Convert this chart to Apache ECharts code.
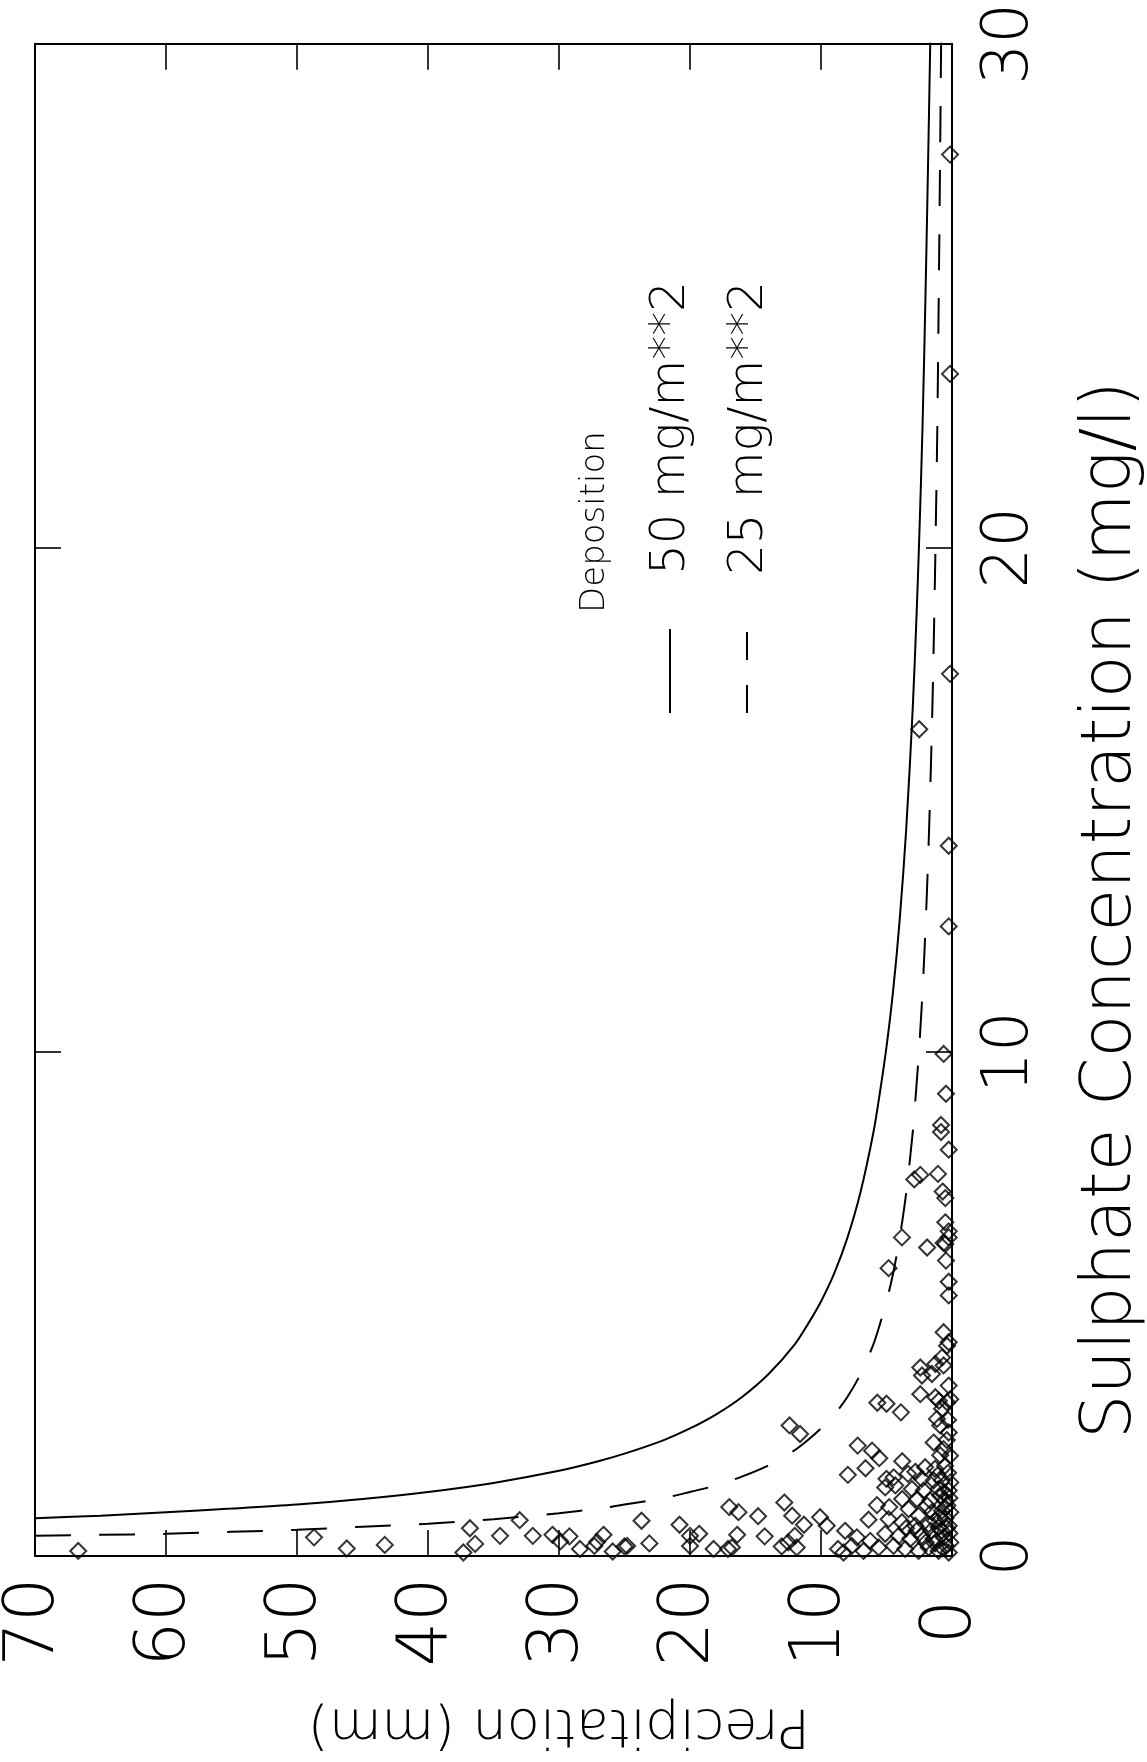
<!DOCTYPE html>
<html>
<head>
<meta charset="utf-8">
<script src="https://cdn.jsdelivr.net/npm/echarts@6/dist/echarts.min.js"></script>
<style>
html,body{margin:0;padding:0;background:#fff;}
#chart{width:1147px;height:1762px;}
</style>
</head>
<body>
<div id="chart"></div>
<script>
// Tick labels
const precipTicks = [0, 10, 20, 30, 40, 50, 60, 70];
const sulphateTicks = [0, 10, 20, 30];

// Deposition curves: [precipitation mm, sulphate mg/l]
const deposition50 = [
  [70, 0.75], [65, 0.80], [60, 0.87], [55, 0.94], [50, 1.02], [45, 1.13], [40, 1.27], [35, 1.45],
  [30, 1.69], [27, 1.88], [25, 2.03], [22, 2.30], [20, 2.53], [18, 2.81], [16, 3.16], [14, 3.61],
  [12, 4.20], [11, 4.60], [10, 5.05], [9, 5.60], [8, 6.30], [7, 7.20], [6, 8.40], [5.5, 9.20],
  [5, 10.1], [4.5, 11.2], [4, 12.6], [3.5, 14.4], [3, 16.8], [2.7, 18.7], [2.5, 20.2],
  [2.25, 22.4], [2, 25.3], [1.8, 28.0], [1.62, 30.6]
];
const deposition25 = [
  [70, 0.40], [65, 0.42], [60, 0.44], [55, 0.48], [50, 0.52], [45, 0.58], [40, 0.64], [35, 0.73],
  [30, 0.85], [27, 0.94], [25, 1.02], [22, 1.15], [20, 1.27], [18, 1.40], [16, 1.58], [14, 1.80],
  [12, 2.10], [11, 2.30], [10, 2.53], [9, 2.80], [8, 3.15], [7, 3.60], [6, 4.20], [5.5, 4.60],
  [5, 5.05], [4.5, 5.60], [4, 6.30], [3.5, 7.20], [3, 8.40], [2.75, 9.20], [2.5, 10.1],
  [2.25, 11.2], [2, 12.6], [1.75, 14.4], [1.5, 16.8], [1.35, 18.7], [1.25, 20.2],
  [1.12, 22.4], [1, 25.3], [0.9, 28.0], [0.81, 30.6]
];

// Observations: [precipitation mm, sulphate mg/l]
const samples = [
  [66.7,0.10],[48.7,0.37],
  [46.2,0.15],[43.3,0.22],[36.8,0.55],[36.4,0.24],[37.3,0.07],[34.5,0.40],[33.0,0.71],[32.0,0.40],
  [30.5,0.42],[29.9,0.29],[29.2,0.39],[28.4,0.14],[27.3,0.20],[27.1,0.28],[26.6,0.42],[25.9,0.09],[25.0,0.19],
  [24.8,0.20],[23.7,0.70],[23.1,0.25],[20.8,0.62],[20.0,0.40],[19.3,0.44],[20.0,0.20],[18.2,0.14],
  [17.0,0.97],[16.3,0.87],[16.4,0.42],[17.1,0.14],[16.8,0.17],[14.8,0.79],[14.3,0.39],[12.8,1.06],
  [12.2,0.80],[11.3,0.62],[12.4,2.59],[11.6,2.42],[12.0,0.40],[12.5,0.27],[13.0,0.19],[11.85,0.17],
  [5.7,3.04],[5.0,3.02],[3.9,2.85],[1.0,3.08],[0.76,2.92],[0.38,3.05],[1.15,2.72],[0.9,2.59],[0.25,2.45],
  [7.2,2.19],[6.1,2.09],[5.55,1.94],[6.6,1.74],[7.95,1.61],[3.8,1.88],[1.4,2.25],[0.64,2.12],[0.15,1.99],
  [2.8,1.67],[2.05,1.76],[1.3,1.73],[0.53,1.79],[5.0,1.53],[4.45,1.56],[5.1,1.36],[4.33,1.40],[3.36,1.63],
  [2.3,1.53],[1.4,1.50],[0.76,1.50],[0.13,1.46],[3.06,1.33],[2.16,1.30],[1.02,1.33],[0.25,1.30],
  [3.8,1.13],[2.67,1.13],[1.66,1.10],[0.51,1.10],[5.73,1.01],[4.79,0.97],[3.31,0.93],[2.55,0.80],
  [1.53,0.87],[0.76,0.90],[0.13,0.87],[6.37,0.72],[4.84,0.73],[3.82,0.67],[2.8,0.60],[1.78,0.63],
  [1.02,0.57],[0.25,0.60],[10.07,0.77],[9.56,0.60],[8.16,0.50],[5.1,0.44],[4.07,0.40],[3.19,0.34],
  [2.3,0.40],[1.4,0.34],[0.64,0.37],[0.13,0.27],[7.26,0.37],[6.24,0.30],[8.7,0.14],[7.65,0.20],
  [6.75,0.10],[5.6,0.17],[4.46,0.20],[3.57,0.14],[2.55,0.10],[1.78,0.17],[1.02,0.10],[0.25,0.07],[8.28,0.07],
  [0.4,2.3],[0.9,2.0],[0.3,1.65],[0.6,1.25],[1.1,1.6],[0.35,1.0],[0.9,1.2],[0.5,0.75],[1.3,0.7],
  [0.2,0.45],[0.8,0.5],[1.6,0.5],[0.45,0.2],[1.3,0.25],[2.0,0.27],[0.7,0.15],[2.7,0.5],[3.5,0.55],
  [1.9,1.0],[0.3,2.7],[0.5,0.95],[0.2,1.15],[0.95,0.78],[0.4,0.55],
  [1.9,6.12],[0.51,6.19],[0.46,5.86],[4.84,5.71],[0.25,5.44],[0.25,5.17],[0.64,4.44],[0.25,4.24],
  [0.38,4.17],[0.76,3.94],[1.27,3.81],[2.42,3.74],[2.29,3.58],[1.53,3.61],[0.64,3.78],[0.25,3.38],
  [2.42,3.21],[1.27,3.15],[0.13,3.11],
  [0.64,9.96],[0.46,9.17],[0.84,8.55],[0.84,8.41],[0.25,8.06],[2.42,7.56],[2.88,7.47],[1.07,7.58],
  [0.71,7.23],[0.51,7.10],[0.51,6.62],[0.25,6.44],[0.25,6.32],[3.82,6.32],[0.64,6.21],
  [0.25,14.09],[0.25,12.49],
  [0.15,27.8],[0.15,23.45],[0.15,17.5],[2.5,16.4]
];

const FONT = '"DejaVu Sans", "Liberation Sans", sans-serif';
const FW = 200;
const chart = echarts.init(document.getElementById('chart'), null, {renderer: 'canvas'});
const grid = {left: 35, right: 195, top: 38, bottom: 206};
const axisBase = {
  type: 'value', interval: 10,
  axisLine: {show: true, onZero: false, lineStyle: {color: '#000', width: 2}},
  axisTick: {show: true, inside: true, length: 26, lineStyle: {color: '#000', width: 1.6}},
  splitLine: {show: false}
};
chart.setOption({
  backgroundColor: '#fff',
  animation: false,
  grid: grid,
  xAxis: [
    Object.assign({}, axisBase, {
      min: precipTicks[0], max: precipTicks[precipTicks.length - 1], inverse: true, position: 'bottom',
      axisLabel: {show: true, rotate: 90, align: 'center', margin: 66, padding: [10, 0, 0, 0],
        fontSize: 70, fontFamily: FONT, fontWeight: FW, color: '#000'}
    }),
    Object.assign({}, axisBase, {
      min: precipTicks[0], max: precipTicks[precipTicks.length - 1], inverse: true, position: 'top',
      axisLabel: {show: false}
    })
  ],
  yAxis: [
    Object.assign({}, axisBase, {
      min: sulphateTicks[0], max: sulphateTicks[sulphateTicks.length - 1], position: 'right',
      axisLabel: {show: true, rotate: 90, margin: 26, fontSize: 64, fontFamily: FONT, fontWeight: FW, color: '#000'}
    }),
    Object.assign({}, axisBase, {
      min: sulphateTicks[0], max: sulphateTicks[sulphateTicks.length - 1], position: 'left',
      axisLabel: {show: false}
    })
  ],
  series: [
    {
      name: '50 mg/m**2', type: 'line', xAxisIndex: 0, yAxisIndex: 0,
      data: deposition50, smooth: 0.3, showSymbol: false, clip: true,
      lineStyle: {color: '#000', width: 2}
    },
    {
      name: '25 mg/m**2', type: 'line', xAxisIndex: 0, yAxisIndex: 0,
      data: deposition25, smooth: 0.3, showSymbol: false, clip: true,
      lineStyle: {color: '#000', width: 2, type: [36, 28]}
    },
    {
      name: 'Observations', type: 'scatter', xAxisIndex: 0, yAxisIndex: 0,
      data: samples, symbol: 'diamond', symbolSize: 16,
      itemStyle: {color: 'rgba(0,0,0,0)', borderColor: '#000', borderWidth: 2}
    }
  ],
  graphic: [
    {type: 'text', x: 1112, y: 910, rotation: Math.PI / 2,
      style: {text: 'Sulphate Concentration (mg/l)', fontSize: 70, fontFamily: FONT, fontWeight: FW, fill: '#000', align: 'center', verticalAlign: 'middle'}},
    {type: 'text', x: 559, y: 1724, rotation: Math.PI,
      style: {text: 'Precipitation (mm)', fontSize: 54, fontFamily: FONT, fontWeight: FW, fill: '#000', align: 'center', verticalAlign: 'middle'}},
    {type: 'text', x: 595, y: 522, rotation: Math.PI / 2,
      style: {text: 'Deposition', fontSize: 34, fontFamily: FONT, fontWeight: FW, fill: '#000', align: 'center', verticalAlign: 'middle'}},
    {type: 'text', x: 672, y: 428, rotation: Math.PI / 2,
      style: {text: '50 mg/m**2', fontSize: 48, fontFamily: FONT, fontWeight: FW, fill: '#000', align: 'center', verticalAlign: 'middle'}},
    {type: 'text', x: 750, y: 428, rotation: Math.PI / 2,
      style: {text: '25 mg/m**2', fontSize: 48, fontFamily: FONT, fontWeight: FW, fill: '#000', align: 'center', verticalAlign: 'middle'}},
    {type: 'line', shape: {x1: 670, y1: 629, x2: 670, y2: 713}, style: {stroke: '#000', lineWidth: 2}},
    {type: 'line', shape: {x1: 747, y1: 713, x2: 747, y2: 632}, style: {stroke: '#000', lineWidth: 2, lineDash: [28, 25]}}
  ]
});
</script>
</body>
</html>
